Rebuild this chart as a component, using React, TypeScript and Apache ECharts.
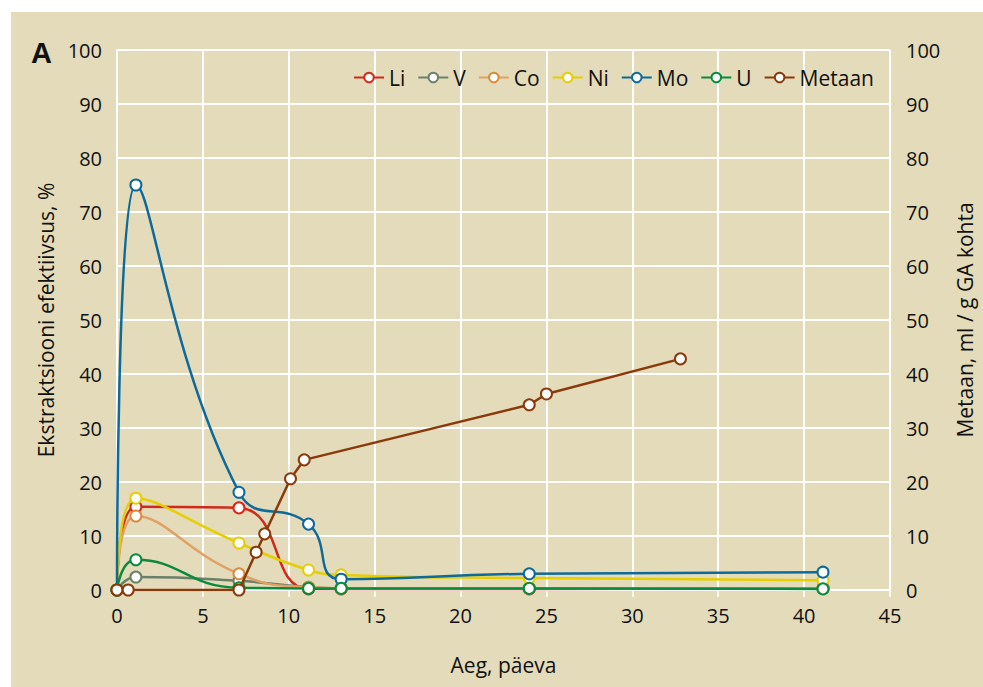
import React, { useEffect, useRef } from "react";
import * as echarts from "echarts";

const metalDays = [0, 1.1, 7.1, 11.15, 13.05, 24, 41.1];
const li = [0, 15.4, 15.2, 0.2, 0.2, 0.2, 0.3];
const v = [0, 2.4, 1.7, 0.5, 0.3, 0.3, 0.3];
const co = [0, 13.7, 3.0, 0.5, 0.3, 0.3, 0.3];
const ni = [0, 17.0, 8.7, 3.7, 2.8, 2.2, 1.8];
const mo = [0, 75, 18.1, 12.2, 2.0, 3.0, 3.3];
const u = [0, 5.6, 0.4, 0.3, 0.3, 0.3, 0.2];

const methaneDays = [0, 0.65, 7.1, 8.1, 8.6, 10.1, 10.9, 24.0, 25.0, 32.8];
const methane = [0, 0, 0, 7.0, 10.4, 20.6, 24.1, 34.3, 36.3, 42.8];

const seriesNames = ["Li", "V", "Co", "Ni", "Mo", "U", "Metaan"];
const colors = ["#d2291c", "#6b8068", "#dc8a3c", "#e6cf00", "#0e6a9a", "#0b8a3a", "#8a3a0a"];

const FONT = "Open Sans";
const BG = "#e3dbba";

const pair = (xs: number[], ys: number[]) => xs.map((x, i) => [x, ys[i]]);

export default function App() {
  const ref = useRef<HTMLDivElement>(null);
  useEffect(() => {
    if (!ref.current) return;
    const chart = echarts.init(ref.current, undefined, { renderer: "svg" });
    const metalData = [li, v, co, ni, mo, u];
    const series: any[] = metalData.map((d, i) => ({
      name: seriesNames[i],
      type: "line",
      data: pair(metalDays, d),
      smooth: 0.5,
      symbol: "circle",
      symbolSize: 11,
      showSymbol: true,
      lineStyle: { width: 2.5, color: i === 2 ? "#e0a066" : colors[i] },
      itemStyle: { color: "#ffffff", borderColor: colors[i], borderWidth: 2 },
      z: 2 + i,
    }));
    series.push({
      name: "Metaan",
      type: "line",
      yAxisIndex: 1,
      data: pair(methaneDays, methane),
      symbol: "circle",
      symbolSize: 11,
      lineStyle: { width: 2.5, color: colors[6] },
      itemStyle: { color: "#ffffff", borderColor: colors[6], borderWidth: 2 },
      z: 10,
    });
    const axisLabel = { color: "#111111", fontFamily: FONT, fontSize: 20 };
    const nameStyle = { color: "#111111", fontFamily: FONT, fontSize: 21 };
    chart.setOption({
      animation: false,
      backgroundColor: "#ffffff",
      color: colors,
      graphic: [
        { type: "rect", z: -10, shape: { x: 11, y: 12, width: 983, height: 687 }, style: { fill: BG } },
        {
          type: "text",
          left: 31,
          top: 38,
          style: { text: "A", fontFamily: "Liberation Sans", fontWeight: "bold", fontSize: 29, fill: "#111" },
        },
      ],
      grid: { left: 117, right: 87, top: 50, bottom: 97 },
      legend: {
        right: 104,
        top: 62,
        itemWidth: 30,
        itemHeight: 12,
        itemGap: 12,
        data: seriesNames,
        textStyle: { color: "#111111", fontFamily: FONT, fontSize: 21 },
      },
      xAxis: {
        type: "value",
        min: 0,
        max: 45,
        interval: 5,
        name: "Aeg, päeva",
        nameLocation: "middle",
        nameGap: 64,
        nameTextStyle: nameStyle,
        axisLine: { show: true, lineStyle: { color: "#ffffff", width: 2 } },
        axisTick: { show: true, length: 7, lineStyle: { color: "#ffffff", width: 1.5 } },
        axisLabel: { ...axisLabel, margin: 15 },
        splitLine: { show: true, lineStyle: { color: "#ffffff", width: 2 } },
      },
      yAxis: [
        {
          type: "value",
          min: 0,
          max: 100,
          interval: 10,
          name: "Ekstraktsiooni efektiivsus, %",
          nameLocation: "middle",
          nameGap: 60,
          nameTextStyle: nameStyle,
          axisLine: { show: true, lineStyle: { color: "#ffffff", width: 2 } },
          axisTick: { show: false },
          axisLabel: { ...axisLabel, margin: 15 },
          splitLine: { show: true, lineStyle: { color: "#ffffff", width: 2 } },
        },
        {
          type: "value",
          min: 0,
          max: 100,
          interval: 10,
          position: "right",
          name: "Metaan, ml / g GA kohta",
          nameLocation: "middle",
          nameGap: 64,
          nameTextStyle: nameStyle,
          axisLine: { show: false },
          axisTick: { show: false },
          axisLabel: { ...axisLabel, margin: 16 },
          splitLine: { show: false },
        },
      ],
      series,
    });
    return () => chart.dispose();
  }, []);
  return (
    <div
      ref={ref}
      style={{ position: "fixed", left: 0, top: 0, width: 983, height: 687 }}
    />
  );
}
